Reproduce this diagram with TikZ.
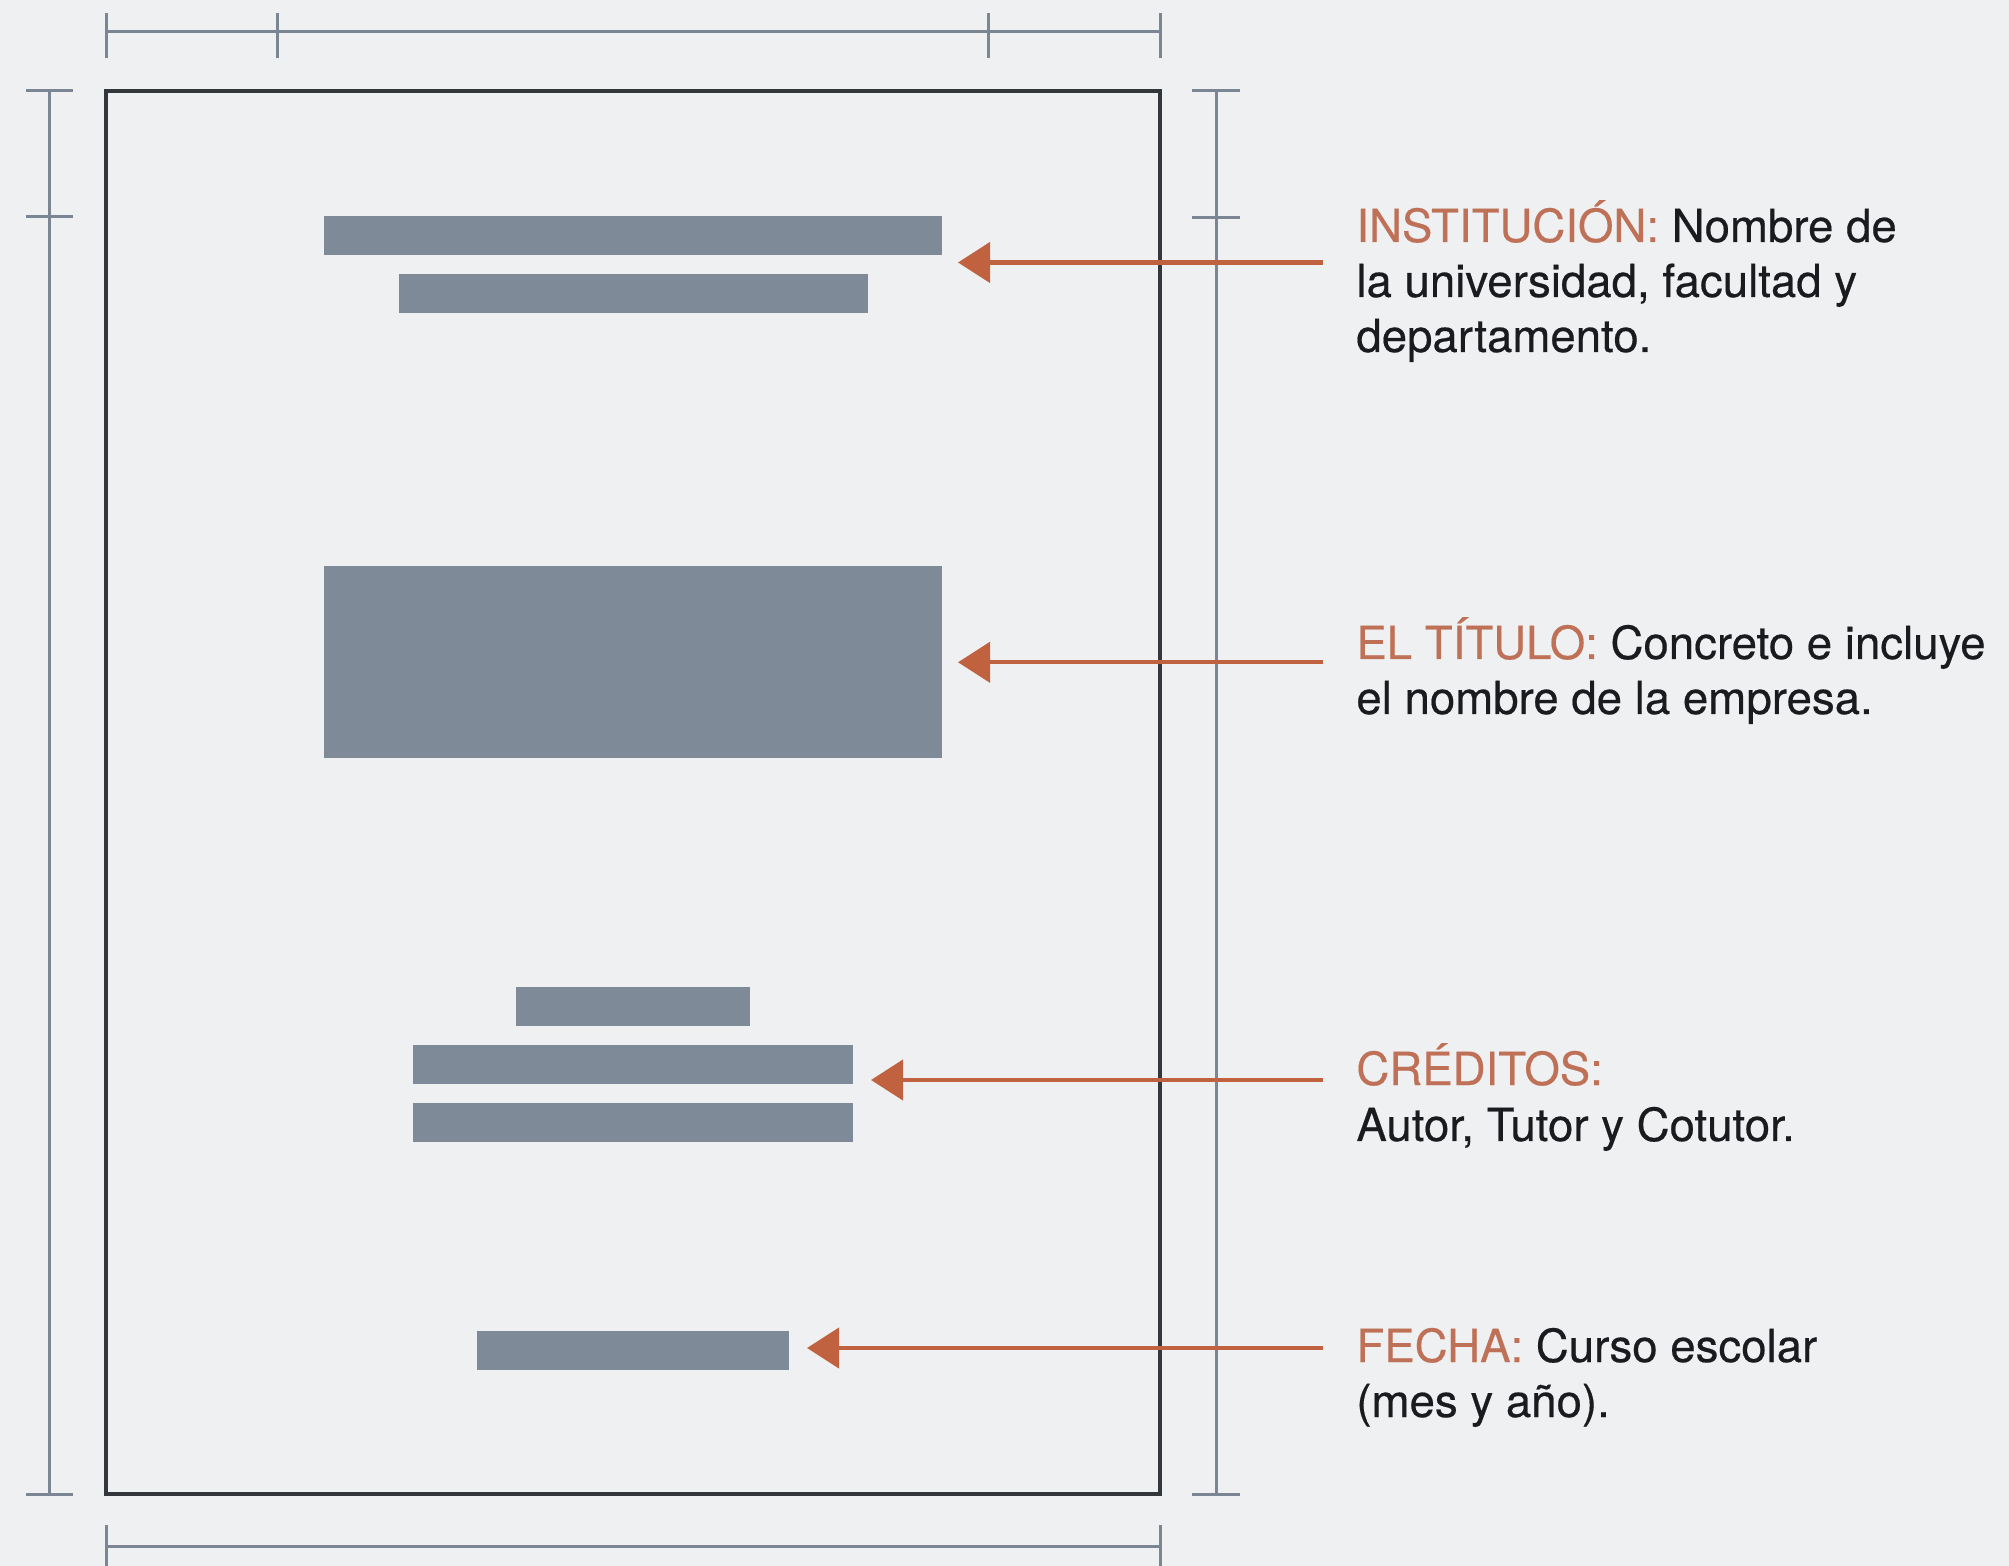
\documentclass[tikz,border=0pt]{standalone}
\usepackage{fontspec}
\setmainfont{TeX Gyre Heros}[FakeBold=0.4]
\usetikzlibrary{arrows.meta}
\definecolor{bgc}{HTML}{EFF0F1}
\definecolor{barc}{HTML}{7F8A98}
\definecolor{dimc}{HTML}{7B8593}
\definecolor{pagec}{HTML}{33363B}
\definecolor{arrc}{HTML}{C0623F}
\definecolor{orgc}{HTML}{BF7158}
\definecolor{txtc}{HTML}{1A1B1E}
\begin{document}
\begin{tikzpicture}[x=0.5pt,y=-0.5pt,
  bar/.style={fill=barc, draw=none, inner sep=0pt, minimum height=19.5pt},
  dimline/.style={draw=dimc, line width=1.5pt},
  pageframe/.style={draw=pagec, line width=1.75pt},
  pointer/.style={draw=arrc, line width=2.2pt, -{Triangle[length=16pt,width=20pt]}},
  lbl/.style={anchor=base west, inner sep=0pt, text=txtc, font=\fontsize{22.8}{27.5}\selectfont}]
\fill[bgc] (0,0) rectangle (2009,1566);
\useasboundingbox (0,0) rectangle (2009,1566);

% dimension lines
\draw[dimline] (106,32) -- (1160,32);
\foreach \xx in {106,277,988,1160} \draw[dimline] (\xx,13) -- (\xx,58);
\draw[dimline] (49,91) -- (49,1494);
\foreach \yy in {91,217,1494} \draw[dimline] (26,\yy) -- (73,\yy);
\draw[dimline] (1216,91) -- (1216,1494);
\foreach \yy in {91,218,1494} \draw[dimline] (1192,\yy) -- (1240,\yy);
\draw[dimline] (106,1546.5) -- (1160,1546.5);
\foreach \xx in {106,1160} \draw[dimline] (\xx,1525) -- (\xx,1570);

% page
\draw[pageframe] (106,91) rectangle (1160,1494);

% bars
\node[bar, minimum width=309pt] (inst1) at (633,235.75) {};
\node[bar, minimum width=234.5pt] (inst2) at (633,293.4) {};
\node[bar, minimum width=309pt, minimum height=96.25pt] (titulo) at (633,662.25) {};
\node[bar, minimum width=116.6pt] (cred1) at (633,1006.5) {};
\node[bar, minimum width=220.35pt] (cred2) at (633,1064) {};
\node[bar, minimum width=220.35pt] (cred3) at (633,1122) {};
\node[bar, minimum width=156.35pt] (fecha) at (633,1350) {};

% arrow ends
\coordinate (s1) at (1323,262.5);
\coordinate (e1) at (958,262.5);
\coordinate (s2) at (1323,662.3);
\coordinate (e2) at (958,662.3);
\coordinate (s3) at (1323,1080);
\coordinate (e3) at (871,1080);
\coordinate (s4) at (1323,1348);
\coordinate (e4) at (807,1348);
\draw[pointer] (s1) -- (e1);
\draw[pointer] (s2) -- (e2);
\draw[pointer] (s3) -- (e3);
\draw[pointer] (s4) -- (e4);

% labels
\node[lbl] (tinst) at (1356,242) {\vtop{\baselineskip=27.5pt\hbox{\textcolor{orgc}{INSTITUCIÓN:} Nombre de}\hbox{la universidad, facultad y}\hbox{departamento.}}};
\node[lbl] (ttit) at (1356,659) {\vtop{\baselineskip=27.5pt\hbox{\textcolor{orgc}{EL TÍTULO:} Concreto e incluye}\hbox{el nombre de la empresa.}}};
\node[lbl] (tcred) at (1356,1085) {\vtop{\baselineskip=28pt\hbox{\textcolor{orgc}{CRÉDITOS:}}\hbox{Autor, Tutor y Cotutor.}}};
\node[lbl] (tfecha) at (1356,1362) {\vtop{\baselineskip=27.5pt\hbox{\textcolor{orgc}{FECHA:} Curso escolar}\hbox{(mes y año).}}};
\end{tikzpicture}
\end{document}
